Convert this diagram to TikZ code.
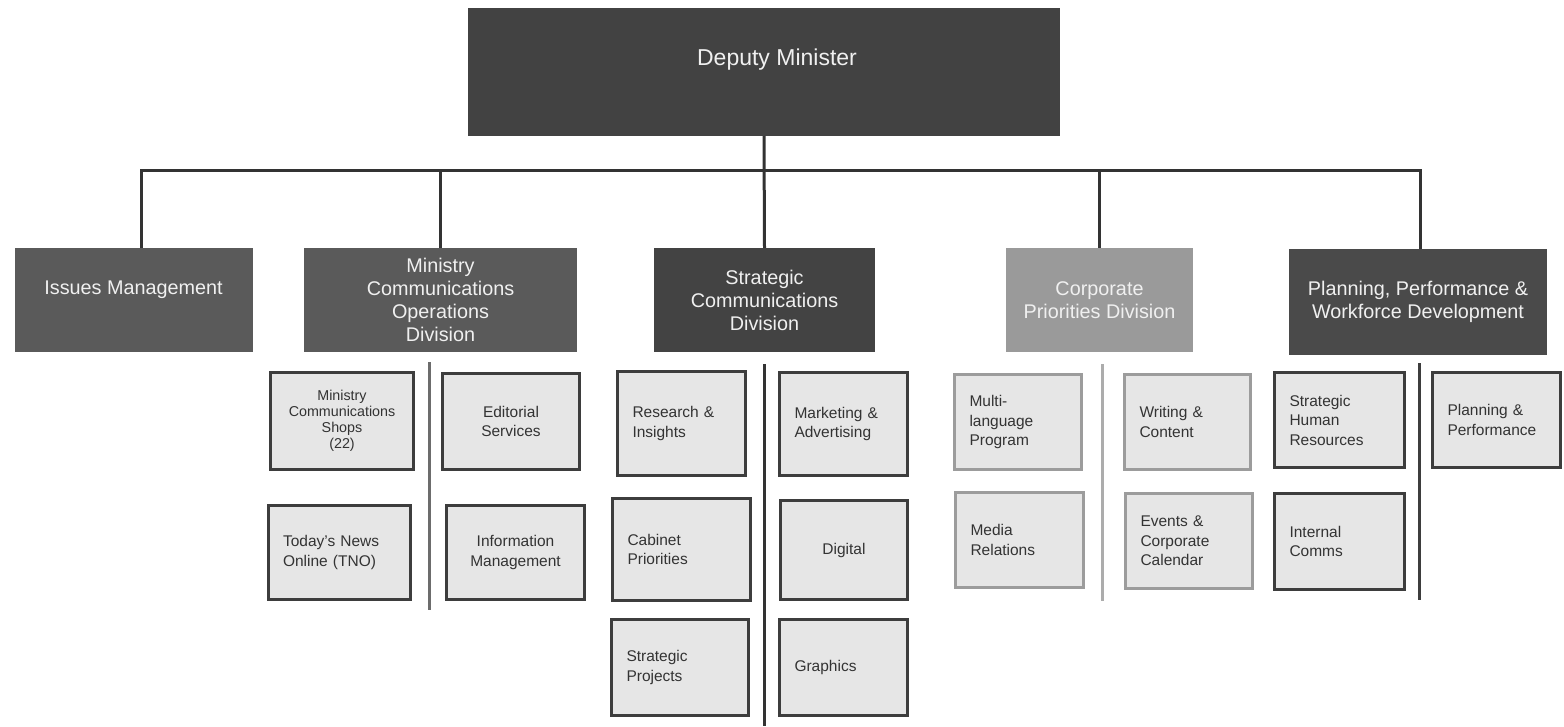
\documentclass[tikz,border=0pt]{standalone}
\usepackage{fontspec}
\setmainfont{Liberation Sans}
\definecolor{cDM}{HTML}{424242}
\definecolor{cMid}{HTML}{5A5A5A}
\definecolor{cDark}{HTML}{434343}
\definecolor{cLight}{HTML}{9A9A9A}
\definecolor{cPlan}{HTML}{4A4A4A}
\definecolor{cSub}{HTML}{E6E6E6}
\definecolor{cBd}{HTML}{3D3D3D}
\definecolor{cBl}{HTML}{9C9C9C}
\definecolor{cLine}{HTML}{333333}
\definecolor{cTxt}{HTML}{333333}
\definecolor{cWt}{HTML}{F0F0F0}
\begin{document}
\begin{tikzpicture}[x=1pt,y=-1pt,
  conn/.style={draw=cLine,line width=3pt},
  grp/.style={draw=#1,line width=3pt},
  lvtwo/.style={fill=#1,text=cWt,font=\fontsize{19.8}{23}\selectfont,align=center,inner sep=0pt},
  lvtext/.style={text=cWt,inner sep=0pt},
  sub/.style={fill=cSub,draw=cBd,line width=2.8pt,text=cTxt,font=\fontsize{15.5}{19.5}\selectfont,inner ysep=0pt},
  subc/.style={sub,draw=cBl},
  lft/.style={align=left,inner xsep=15pt},
  ctr/.style={align=center,inner xsep=8pt}]
\useasboundingbox (0,0) rectangle (1564,726);

% top
\node[fill=cDM,minimum width=592,minimum height=128,inner sep=0pt] (dm) at (764,72) {};
\node[lvtext,font=\fontsize{23}{27}\selectfont] (dmt) at (777,60) {Deputy Minister};

% level 2
\node[lvtwo=cMid,minimum width=238,minimum height=104] (iss) at (134,300) {};
\node[lvtext,font=\fontsize{19.8}{23}\selectfont] (isst) at (133.5,290) {Issues Management};
\node[lvtwo=cMid,minimum width=273,minimum height=104] (mco) at (440.5,300) {Ministry\\Communications\\Operations\\Division};
\node[lvtwo=cDark,minimum width=221,minimum height=104] (scd) at (764.5,300) {Strategic\\Communications\\Division};
\node[lvtwo=cLight,minimum width=187,minimum height=104] (cpd) at (1099.5,300) {Corporate\\Priorities Division};
\node[lvtwo=cPlan,minimum width=258,minimum height=106] (ppw) at (1418,302) {Planning, Performance \&\\Workforce Development};

% connectors
\coordinate (bar) at (0,170);
\draw[conn] ([xshift=7pt]iss.north) |- ([xshift=2pt]ppw.north |- bar) -- ([xshift=2pt]ppw.north);
\draw[conn] (mco.north) -- (mco.north |- bar);
\draw[conn] (dm.south) -- (scd.north);
\draw[conn] (cpd.north) -- (cpd.north |- bar);

% group lines
\coordinate (g1a) at (429,362); \coordinate (g1b) at (429,610);
\coordinate (g2a) at (764,364); \coordinate (g2b) at (764,726);
\coordinate (g3a) at (1102,364); \coordinate (g3b) at (1102,601);
\coordinate (g4a) at (1419,363); \coordinate (g4b) at (1419,600);
\draw[grp=gray!85!black] (g1a) -- (g1b);
\draw[grp=cLine] (g2a) -- (g2b);
\draw[grp=gray!65] (g3a) -- (g3b);
\draw[grp=cBd] (g4a) -- (g4b);

% Ministry group
\node[sub,ctr,font=\fontsize{14.3}{16}\selectfont,inner xsep=4pt,text width=135,minimum width=143,minimum height=97] (mcs) at (342,421) {Ministry\\Communications\\Shops\\(22)};
\node[sub,ctr,text width=121,minimum width=137,minimum height=96] (eds) at (511,421.5) {Editorial\\Services};
\node[sub,lft,inner xsep=14.5pt,text width=113,minimum height=94] (tno) at (339.5,552.5) {Today's News\\Online (TNO)};
\node[sub,ctr,text width=122,minimum width=138,minimum height=94] (imn) at (515.5,552.5) {Information\\Management};

% Strategic group
\node[sub,lft,text width=98,minimum height=104] (ri) at (681.5,423.5) {Research \&\\Insights};
\node[sub,lft,text width=98,minimum height=103] (ma) at (843.5,424) {Marketing \&\\Advertising};
\node[sub,lft,text width=108,minimum height=102] (cp) at (681.5,549.5) {Cabinet\\Priorities};
\node[sub,ctr,text width=111,minimum width=127,minimum height=99] (dig) at (844,550) {Digital};
\node[sub,lft,text width=107,minimum height=96] (sp) at (680,667.5) {Strategic\\Projects};
\node[sub,lft,text width=98,minimum height=96] (gr) at (843.5,667.5) {Graphics};

% Corporate group
\node[subc,lft,text width=97,minimum height=95] (ml) at (1018,422) {Multi-\\language\\Program};
\node[subc,lft,text width=96,minimum height=95] (wc) at (1187.5,422) {Writing \&\\Content};
\node[subc,lft,text width=98,minimum height=95] (mr) at (1019.5,540) {Media\\Relations};
\node[subc,lft,text width=97,minimum height=95] (ev) at (1189,541) {Events \&\\Corporate\\Calendar};

% Planning group
\node[sub,lft,text width=100,minimum height=95] (shr) at (1339.5,420) {Strategic\\Human\\Resources};
\node[sub,lft,text width=98,minimum height=95] (pp) at (1496.5,420) {Planning \&\\Performance};
\node[sub,lft,text width=100,minimum height=96] (ic) at (1339.5,541.5) {Internal\\Comms};
\end{tikzpicture}
\end{document}
